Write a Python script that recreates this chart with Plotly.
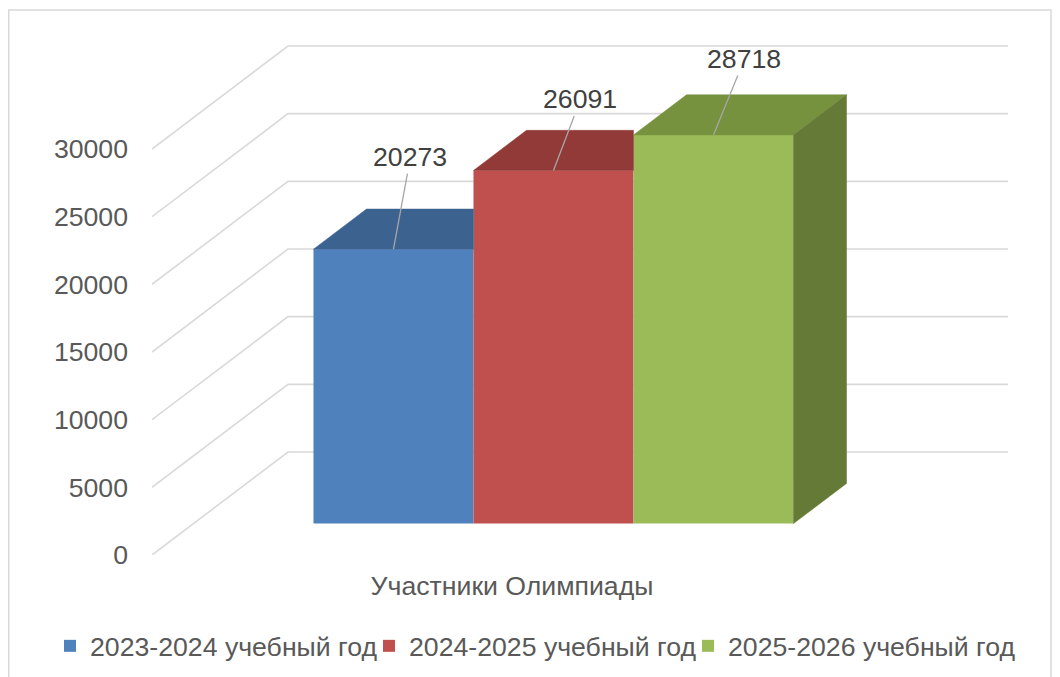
import plotly.graph_objects as go

# ---------------- data ----------------
CATEGORY = "Участники Олимпиады"
SERIES = ["2023-2024 учебный год", "2024-2025 учебный год", "2025-2026 учебный год"]
VALUES = [20273, 26091, 28718]
Y_TICKS = [0, 5000, 10000, 15000, 20000, 25000, 30000]

# ---------------- style ----------------
FRONT_COLORS = ["#4F81BD", "#C0504D", "#9BBB59"]
TOP_COLORS = ["#3C6290", "#923A38", "#77923F"]
SIDE_COLORS = ["#3A5B86", "#8A3533", "#647A36"]
LABEL_OFFSETS = [(17, -92), (27, -71), (31, -76)]  # label centre offset in px
LEGEND_ENTRY_W = [274, 274, 292]
FONT = "Arial, Liberation Sans, sans-serif"
FS = 26.67  # 20pt

PAGE_OFFSET = 8  # default body margin of the html page
W, H = 1060 - PAGE_OFFSET, 677 - PAGE_OFFSET


def fx(p):  # page px -> figure px (x)
    return p - PAGE_OFFSET


def fy(p):  # page px -> figure px (y)
    return p - PAGE_OFFSET


PLOT_L, PLOT_R, PLOT_T, PLOT_B = fx(152), fx(1010), fy(20), fy(555)
PW, PH = PLOT_R - PLOT_L, PLOT_B - PLOT_T
UNIT_PX = 160.0              # px per category unit (one bar width)
VALUE_PX = 406.0 / 30000     # px per value unit
DEPTH_PX = (136.0, 103.0)    # oblique depth of the floor (right, up)
GAP = 0.75                   # gap before/after the bar cluster (bar widths)
BAR_FRONT, BAR_BACK = 0.305, 0.695  # bar depth as fraction of floor depth

DX = DEPTH_PX[0] / UNIT_PX
DY = DEPTH_PX[1] / VALUE_PX
FLOOR_W = 2 * GAP + len(VALUES)
X_RANGE = [0, PW / UNIT_PX]
Y_RANGE = [0, PH / VALUE_PX]

fig = go.Figure()

# wall gridlines (side wall + back wall), base subplot (drawn under bars)
gx, gy = [], []
for v in Y_TICKS:
    gx += [0, DX, DX + FLOOR_W, None]
    gy += [v, v + DY, v + DY, None]
fig.add_trace(go.Scatter(x=gx, y=gy, mode="lines",
                         line=dict(color="#D9D9D9", width=1.6),
                         hoverinfo="skip", showlegend=False))

# bars on overlay subplot
fx0, fy0 = BAR_FRONT * DX, BAR_FRONT * DY
bdx, bdy = (BAR_BACK - BAR_FRONT) * DX, (BAR_BACK - BAR_FRONT) * DY
n = len(VALUES)
annotations = []
for i, (name, v) in enumerate(zip(SERIES, VALUES)):
    xl = GAP + i + fx0
    xr = xl + 1
    top = fy0 + v
    fig.add_trace(go.Bar(x=[xl + 0.5], y=[v], base=[fy0], width=[1],
                         name=name, legendwidth=LEGEND_ENTRY_W[i],
                         marker=dict(color=FRONT_COLORS[i], line=dict(width=0)),
                         xaxis="x2", yaxis="y2",
                         hovertemplate=f"{name}: {v}<extra></extra>"))
    # top face
    if i + 1 < n and VALUES[i + 1] > v:
        px = [xl, xr, xr, xl + bdx, xl]
    else:
        px = [xl, xr, xr + bdx, xl + bdx, xl]
    py = [top, top, top + bdy, top + bdy, top]
    fig.add_trace(go.Scatter(x=px, y=py, fill="toself", mode="lines",
                             fillcolor=TOP_COLORS[i],
                             line=dict(color=TOP_COLORS[i], width=0.5),
                             xaxis="x2", yaxis="y2",
                             hoverinfo="skip", showlegend=False))
    # right side face (visible only if no taller neighbour to the right)
    if i + 1 == n or VALUES[i + 1] <= v:
        sx = [xr, xr, xr + bdx, xr + bdx, xr]
        sy = [fy0, top, top + bdy, fy0 + bdy, fy0]
        fig.add_trace(go.Scatter(x=sx, y=sy, fill="toself", mode="lines",
                                 fillcolor=SIDE_COLORS[i],
                                 line=dict(color=SIDE_COLORS[i], width=0.5),
                                 xaxis="x2", yaxis="y2",
                                 hoverinfo="skip", showlegend=False))
    ax, ay = LABEL_OFFSETS[i]
    annotations.append(dict(x=xl + 0.5, y=top, xref="x2", yref="y2",
                            text=str(v), showarrow=True, arrowhead=0,
                            arrowwidth=1.3, arrowcolor="#A6A6A6",
                            ax=ax, ay=ay, standoff=0,
                            font=dict(family=FONT, size=FS, color="#404040")))

axis_common = dict(showgrid=False, zeroline=False, showline=False)
fig.update_layout(
    width=W, height=H,
    margin=dict(l=PLOT_L, r=W - PLOT_R, t=PLOT_T, b=H - PLOT_B, autoexpand=False),
    paper_bgcolor="white", plot_bgcolor="rgba(0,0,0,0)",
    barmode="overlay",
    font=dict(family=FONT, size=FS, color="#595959"),
    xaxis=dict(range=X_RANGE, tickvals=[FLOOR_W / 2], ticktext=[CATEGORY],
               ticks="", ticklabelstandoff=12, fixedrange=True, **axis_common),
    yaxis=dict(range=Y_RANGE, tickvals=Y_TICKS, tickformat="d", ticks="",
               ticklabelstandoff=23, fixedrange=True, **axis_common),
    xaxis2=dict(range=X_RANGE, overlaying="x", visible=False, fixedrange=True),
    yaxis2=dict(range=Y_RANGE, overlaying="y", visible=False, fixedrange=True),
    legend=dict(orientation="h", xref="paper", yref="paper",
                x=(fx(50) - PLOT_L) / PW, xanchor="left",
                y=(PLOT_B - fy(646)) / PH, yanchor="middle",
                font=dict(size=FS, color="#595959"),
                bgcolor="rgba(0,0,0,0)"),
    annotations=annotations,
    shapes=[dict(type="rect", xref="paper", yref="paper",
                 x0=(0.75 - PLOT_L) / PW,
                 x1=(fx(1051) - PLOT_L) / PW,
                 y0=(PLOT_B - fy(690)) / PH,
                 y1=(PLOT_B - fy(10)) / PH,
                 line=dict(color="#D9D9D9", width=1.5), fillcolor="rgba(0,0,0,0)")],
)

fig.write_html("out.html")
